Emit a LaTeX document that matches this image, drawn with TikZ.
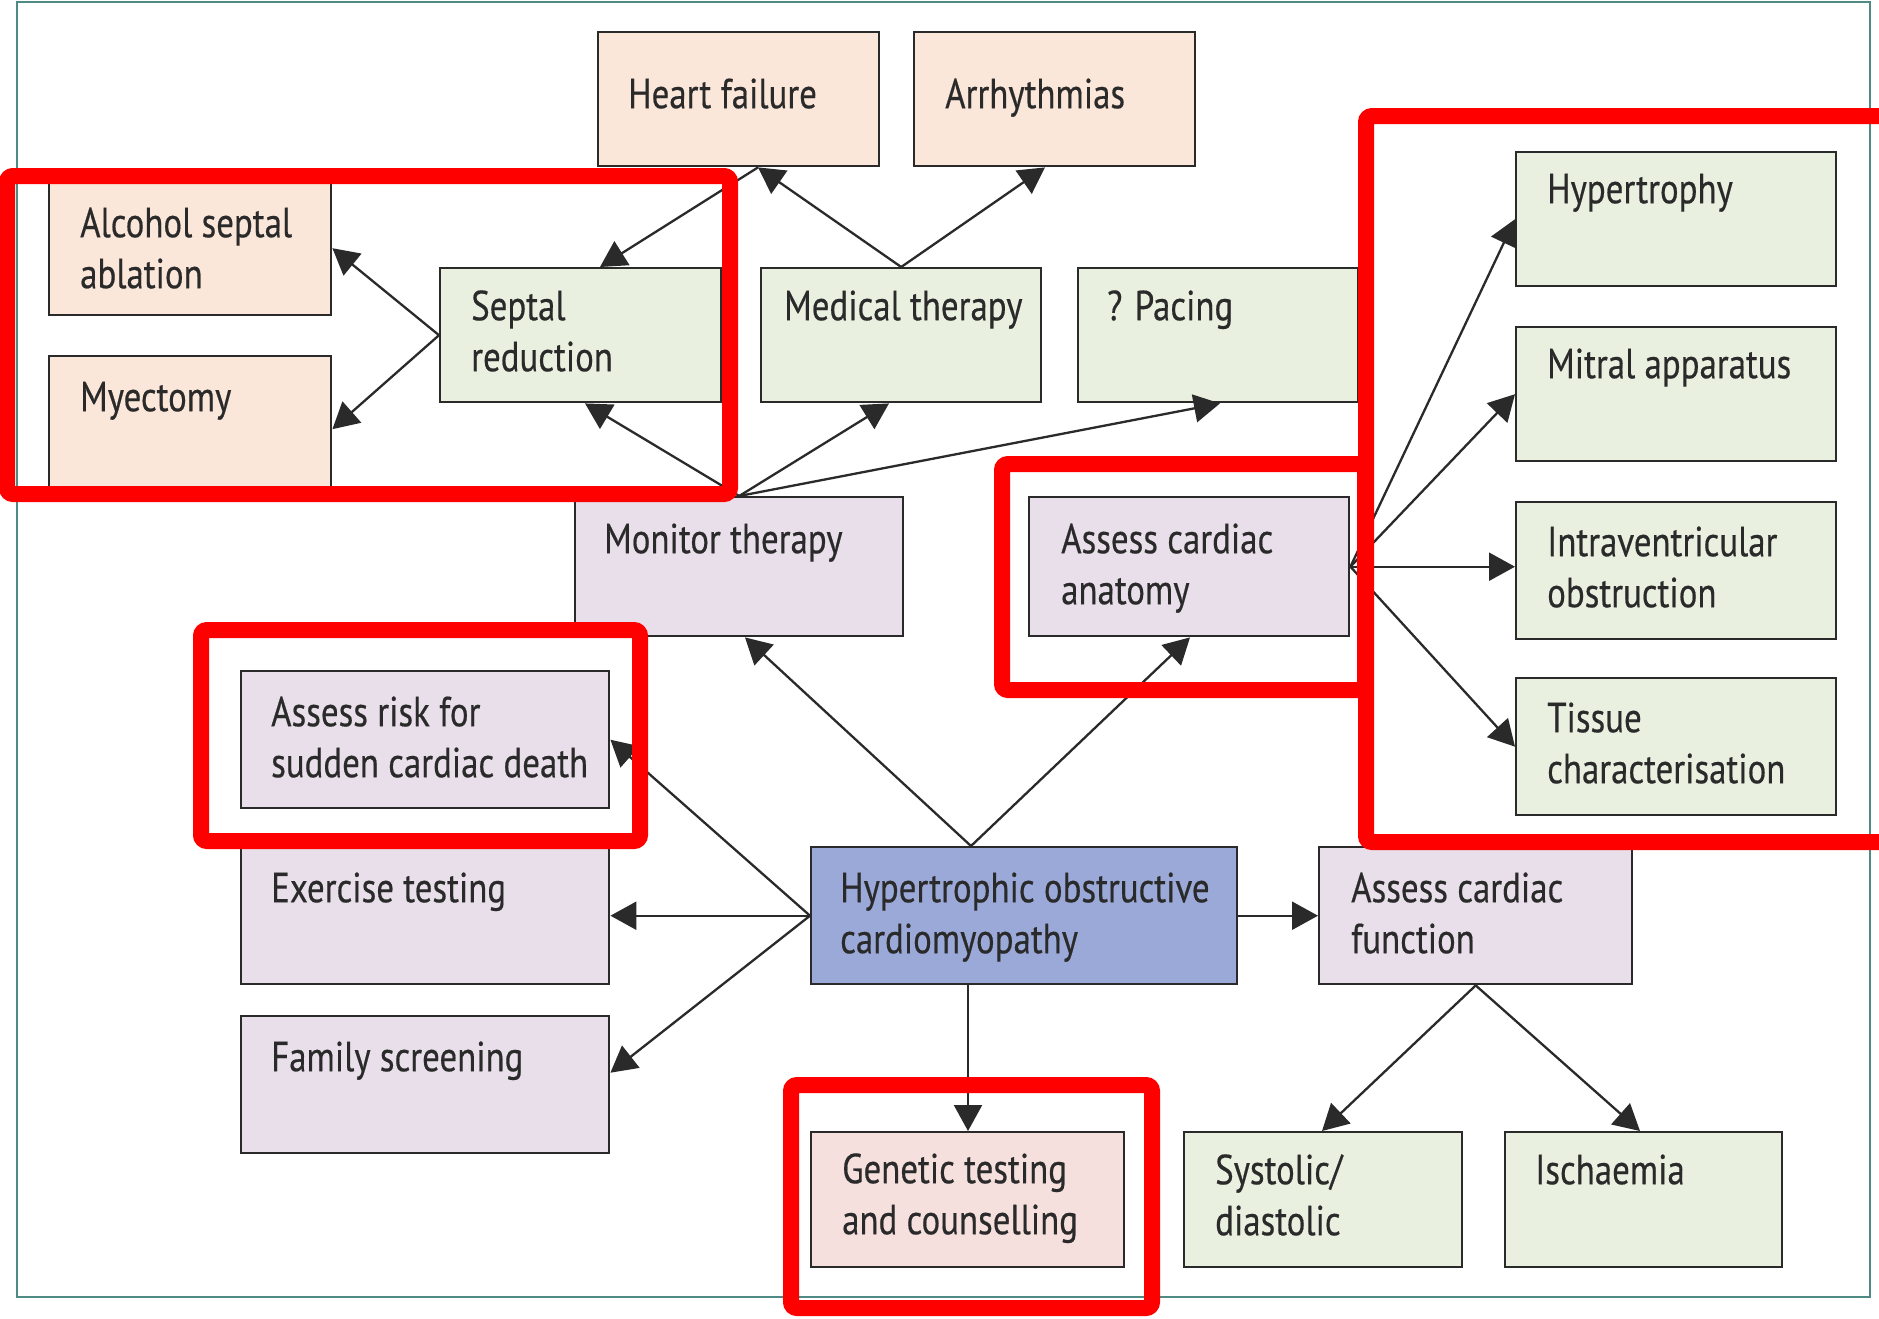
\documentclass[tikz,border=0pt]{standalone}
\usepackage{fontspec}
\setmainfont[FakeStretch=0.83,FakeBold=0.4]{PT Sans}
\usetikzlibrary{arrows.meta}

\definecolor{peach}{HTML}{FBE6DA}
\definecolor{rose}{HTML}{F6E0DE}
\definecolor{sage}{HTML}{E9F0E0}
\definecolor{lilac}{HTML}{E9DFEA}
\definecolor{slate}{HTML}{9AA9D7}
\definecolor{frameteal}{HTML}{4F8A84}
\definecolor{ink}{HTML}{2A2A2A}
\definecolor{markred}{HTML}{FF0000}

% fixed-size cell: width, height, first baseline from top, left indent, text
\newcommand\cell[5]{\parbox[c][#2pt][t]{#1pt}{\raggedright\leftskip=#4pt\relax\rule{0pt}{#3pt}#5}}

\tikzset{
  box/.style={draw=ink, line width=2.4pt, inner sep=0pt, anchor=north west,
    text=ink, font=\fontsize{42}{51}\selectfont},
  link/.style={draw=ink, line width=2.3pt, -{Triangle[length=26pt,width=28pt]}},
  redmark/.style={draw=markred, line width=16pt, rounded corners=6pt},
}

\begin{document}
\begin{tikzpicture}[x=1pt, y=-1pt]
\fill[white] (0,0) rectangle (1879,1318);
\useasboundingbox (0,0) rectangle (1879,1318);
\draw[frameteal, line width=2.5pt] (17,2) rectangle (1870,1297);

% outcomes and treatments
\node[box,fill=peach] (hf)   at (597,31)  {\cell{281}{134}{76}{30}{Heart failure}};
\node[box,fill=peach] (arrh) at (913,31)  {\cell{281}{134}{76}{31}{Arrhythmias}};
\node[box,fill=peach] (asa)  at (48,180)  {\cell{282}{134}{56}{31}{Alcohol septal\\ablation}};
\node[box,fill=peach] (myec) at (48,355)  {\cell{282}{134}{55}{31}{Myectomy}};
\node[box,fill=sage]  (sept) at (439,267) {\cell{281}{134}{52}{31}{Septal\\reduction}};
\node[box,fill=sage]  (med)  at (760,267) {\cell{280}{134}{52}{23}{Medical therapy}};
\node[box,fill=sage]  (pace) at (1077,267){\cell{280}{134}{52}{29}{? Pacing}};

% anatomy details
\node[box,fill=sage] (hyp)    at (1515,151) {\cell{320}{134}{51}{31}{Hypertrophy}};
\node[box,fill=sage] (mitral) at (1515,326) {\cell{320}{134}{51}{31}{Mitral apparatus}};
\node[box,fill=sage] (intra)  at (1515,501) {\cell{320}{137}{54}{31}{Intraventricular\\obstruction}};
\node[box,fill=sage] (tissue) at (1515,677) {\cell{320}{137}{54}{31}{Tissue\\characterisation}};

% assessments
\node[box,fill=lilac] (mon)  at (574,496)  {\cell{328}{139}{56}{29}{Monitor therapy}};
\node[box,fill=lilac] (anat) at (1028,496) {\cell{320}{139}{56}{32}{Assess cardiac\\anatomy}};
\node[box,fill=lilac] (risk) at (240,670)  {\cell{368}{137}{55}{30}{Assess risk for\\sudden cardiac death}};
\node[box,fill=lilac] (exer) at (240,846)  {\cell{368}{137}{55}{30}{Exercise testing}};
\node[box,fill=lilac] (fam)  at (240,1015) {\cell{368}{137}{55}{30}{Family screening}};
\node[box,fill=slate] (hocm) at (810,846)  {\cell{426}{137}{55}{29}{Hypertrophic obstructive\\cardiomyopathy}};
\node[box,fill=lilac] (func) at (1318,846) {\cell{313}{137}{55}{32}{Assess cardiac\\function}};
\node[box,fill=rose]  (gen)  at (810,1131) {\cell{313}{135}{51}{31}{Genetic testing\\and counselling}};
\node[box,fill=sage]  (sys)  at (1183,1131){\cell{278}{135}{52}{31}{Systolic/\\diastolic}};
\node[box,fill=sage]  (isch) at (1504,1131){\cell{277}{135}{52}{30}{Ischaemia}};

% connectors
\draw[link] (med.north) -- ([xshift=161pt]hf.south west);
\draw[link] (med.north) -- ([xshift=132pt]arrh.south west);
\draw[link] ([xshift=161pt]hf.south west) -- ([xshift=161pt]sept.north west);
\draw[link] (sept.west) -- (asa.east);
\draw[link] (sept.west) -- ([yshift=-6pt]myec.east);
\draw[link] (mon.north) -- ([xshift=146pt]sept.south west);
\draw[link] (mon.north) -- ([xshift=129pt]med.south west);
\draw[link] (mon.north) -- ([xshift=143pt]pace.south west);
\draw[link] ([xshift=161pt]hocm.north west) -- ([xshift=171pt]mon.south west);
\draw[link] ([xshift=161pt]hocm.north west) -- ([xshift=162pt]anat.south west);
\draw[link] (hocm.west) -- (risk.east);
\draw[link] (hocm.west) -- (exer.east);
\draw[link] (hocm.west) -- ([yshift=12pt]fam.east);
\draw[link] ([xshift=158pt]hocm.south west) -- ([xshift=158pt]gen.north west);
\draw[link] (hocm.east) -- (func.west);
\draw[link] (func.south) -- ([xshift=139pt]sys.north west);
\draw[link] (func.south) -- ([xshift=136pt]isch.north west);
\draw[link] (anat.east) -- (hyp.west);
\draw[link] (anat.east) -- (mitral.west);
\draw[link] (anat.east) -- ([yshift=4pt]intra.west);
\draw[link] (anat.east) -- (tissue.west);

% red highlight frames
\draw[redmark] (7,176) rectangle (730,494);
\draw[redmark] (1366,116) rectangle (1900,842);
\draw[redmark] (1002,464) rectangle (1365,690);
\draw[redmark] (201,630) rectangle (640,841);
\draw[redmark] (791,1085) rectangle (1152,1308);
\end{tikzpicture}
\end{document}
